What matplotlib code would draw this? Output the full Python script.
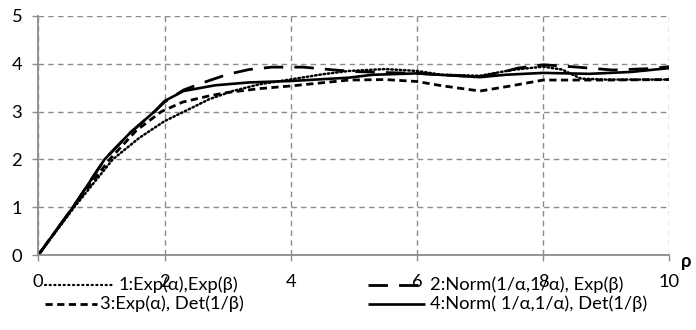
import matplotlib
matplotlib.use("Agg")
import matplotlib.pyplot as plt
from matplotlib.lines import Line2D

# ---- data ----
x1 = [0, 0.57, 1.18, 1.6, 2.0, 2.45, 2.71, 3.08, 3.5, 4.03, 4.5, 4.92, 5.5, 6.0, 6.4, 7.0, 7.5, 8.0, 8.3, 8.6, 9.0, 10]
y1 = [0, 1.0, 2.0, 2.45, 2.80, 3.09, 3.26, 3.43, 3.57, 3.68, 3.78, 3.85, 3.89, 3.85, 3.77, 3.75, 3.87, 3.94, 3.88, 3.69, 3.67, 3.67]

x2 = [0, 0.55, 1.05, 1.45, 1.84, 2.0, 2.3, 2.6, 3.0, 3.34, 3.7, 4.2, 4.7, 5.0, 5.4, 6.0, 6.4, 7.0, 7.4, 7.6, 8.0, 8.45, 9.1, 9.7, 10]
y2 = [0, 1.0, 2.0, 2.55, 3.0, 3.2, 3.45, 3.6, 3.78, 3.88, 3.93, 3.93, 3.87, 3.84, 3.82, 3.80, 3.77, 3.73, 3.84, 3.91, 3.98, 3.94, 3.87, 3.90, 3.94]

x3 = [0, 0.55, 1.13, 1.55, 1.95, 2.29, 2.71, 3.0, 3.5, 4.03, 4.92, 5.5, 6.0, 6.4, 7.0, 7.5, 8.0, 9.0, 10]
y3 = [0, 1.0, 2.0, 2.6, 3.0, 3.2, 3.33, 3.4, 3.48, 3.54, 3.66, 3.67, 3.63, 3.54, 3.43, 3.54, 3.66, 3.66, 3.67]

x4 = [0, 0.55, 1.05, 1.45, 1.84, 2.0, 2.3, 2.8, 3.34, 4.0, 4.92, 5.3, 6.0, 6.36, 7.0, 7.4, 8.0, 8.73, 9.4, 10]
y4 = [0, 1.0, 2.0, 2.55, 3.0, 3.22, 3.43, 3.55, 3.61, 3.64, 3.71, 3.77, 3.80, 3.77, 3.72, 3.77, 3.81, 3.79, 3.83, 3.91]

labels = ["1:Exp(\u03b1),Exp(\u03b2)",
          "2:Norm(1/\u03b1,1/\u03b1), Exp(\u03b2)",
          "3:Exp(\u03b1), Det(1/\u03b2)",
          "4:Norm( 1/\u03b1,1/\u03b1), Det(1/\u03b2)"]
xticks = [0, 2, 4, 6, 8, 10]
yticks = [0, 1, 2, 3, 4, 5]

plt.rcParams['font.family'] = ['Lato', 'DejaVu Sans']
FS = 13.2
GRID = '#8c8c8c'

W, H = 696, 330
fig = plt.figure(figsize=(W / 100, H / 100), dpi=100)
ax = fig.add_axes([38.3 / W, 1 - 255 / H, (669.3 - 38.3) / W, (255 - 16) / H])

styles = [
    dict(ls=(0, (0.6, 1.1)), lw=1.8, dash_capstyle='round'),
    dict(ls=(0, (7, 4)), lw=2.0),
    dict(ls=(0, (2.6, 1.6)), lw=2.0),
    dict(ls='-', lw=1.9),
]
series = [(x1, y1), (x2, y2), (x3, y3), (x4, y4)]
for (xs, ys), st in zip(series, styles):
    ax.plot(xs, ys, color='black', solid_capstyle='butt', solid_joinstyle='round', **st)

ax.set_xlim(0, 10)
ax.set_ylim(0, 5)
ax.set_xticks(xticks)
ax.set_yticks(yticks)
ax.grid(True, color=GRID, ls=(0, (4, 3)), lw=1.0)
ax.set_axisbelow(True)
for s in ['top', 'right']:
    ax.spines[s].set_visible(False)
for s in ['left', 'bottom']:
    ax.spines[s].set_color(GRID)
    ax.spines[s].set_linewidth(1.3)
ax.tick_params(axis='both', colors=GRID, length=4.5, width=1.0, labelsize=FS, labelcolor='black')
ax.tick_params(axis='y', pad=7)
ax.tick_params(axis='x', pad=9)

# axis label rho
fig.text(686 / W, 1 - 261 / H, "\u03c1", fontsize=FS, fontweight='bold', ha='center', va='center')

# legend drawn manually (two rows, two columns)
rows_y = [1 - 285 / H, 1 - 304 / H]
entries = [
    (0, 0, 45, 115, 119),
    (1, 0, 368, 425, 430),
    (2, 1, 45, 97, 100),
    (3, 1, 368, 425, 430),
]
leg_styles = [
    dict(ls=(0, (0.5, 1.6)), lw=1.6, dash_capstyle='round'),
    dict(ls=(0, (7, 4)), lw=2.0),
    dict(ls=(0, (2.6, 1.6)), lw=2.0),
    dict(ls='-', lw=1.9),
]
for idx, row, xa, xb, xt in entries:
    y = rows_y[row]
    fig.add_artist(Line2D([xa / W, xb / W], [y, y], transform=fig.transFigure,
                          color='black', solid_capstyle='butt', **leg_styles[idx]))
    fig.text(xt / W, y, labels[idx], fontsize=FS, ha='left', va='center')

fig.savefig("out.png", dpi=100)
